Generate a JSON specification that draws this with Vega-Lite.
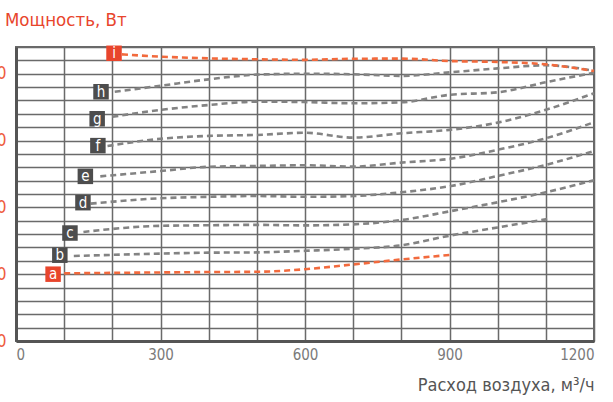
{
  "$schema": "https://vega.github.io/schema/vega-lite/v6.json",
  "width": 578,
  "height": 294,
  "autosize": {"type": "none"},
  "padding": {"left": 16, "top": 47, "right": 19, "bottom": 61},
  "background": "white",
  "title": {
    "text": "Мощность, Вт",
    "anchor": "start",
    "frame": "group",
    "dx": -11,
    "offset": 9,
    "font": "DejaVu Sans Condensed",
    "fontSize": 18.5,
    "fontWeight": "normal",
    "color": "#e8452c"
  },
  "config": {
    "view": {"stroke": "#6a6a6a", "strokeWidth": 2},
    "axis": {"gridColor": "#6a6a6a", "gridWidth": 1.5, "gridOpacity": 1, "ticks": false, "domainColor": "#555555", "domainWidth": 3, "labelOverlap": false}
  },
  "datasets": {
    "curves": [
      {"s": "a", "x": 100, "y": 50.6}, {"s": "a", "x": 200, "y": 51}, {"s": "a", "x": 300, "y": 51.3}, {"s": "a", "x": 400, "y": 51.6}, {"s": "a", "x": 500, "y": 51.8}, {"s": "a", "x": 600, "y": 53.7}, {"s": "a", "x": 700, "y": 57.3}, {"s": "a", "x": 800, "y": 61}, {"s": "a", "x": 900, "y": 64.4},
      {"s": "b", "x": 120, "y": 63.6}, {"s": "b", "x": 300, "y": 65.4}, {"s": "b", "x": 400, "y": 66.1}, {"s": "b", "x": 500, "y": 66.3}, {"s": "b", "x": 600, "y": 67.5}, {"s": "b", "x": 700, "y": 69}, {"s": "b", "x": 800, "y": 71.6}, {"s": "b", "x": 900, "y": 78.8}, {"s": "b", "x": 1000, "y": 85}, {"s": "b", "x": 1110, "y": 91.6},
      {"s": "c", "x": 140, "y": 81.6}, {"s": "c", "x": 300, "y": 86.2}, {"s": "c", "x": 400, "y": 86.6}, {"s": "c", "x": 500, "y": 86.9}, {"s": "c", "x": 600, "y": 86.5}, {"s": "c", "x": 700, "y": 87.3}, {"s": "c", "x": 800, "y": 90.5}, {"s": "c", "x": 900, "y": 97}, {"s": "c", "x": 1000, "y": 103.8}, {"s": "c", "x": 1100, "y": 111.3}, {"s": "c", "x": 1200, "y": 120.3},
      {"s": "d", "x": 155, "y": 102.8}, {"s": "d", "x": 300, "y": 106.8}, {"s": "d", "x": 400, "y": 107.9}, {"s": "d", "x": 500, "y": 108.5}, {"s": "d", "x": 600, "y": 107.9}, {"s": "d", "x": 700, "y": 108.5}, {"s": "d", "x": 800, "y": 111.3}, {"s": "d", "x": 900, "y": 115.8}, {"s": "d", "x": 1000, "y": 123.5}, {"s": "d", "x": 1100, "y": 131.8}, {"s": "d", "x": 1200, "y": 142.2},
      {"s": "e", "x": 175, "y": 123.2}, {"s": "e", "x": 300, "y": 127.2}, {"s": "e", "x": 400, "y": 130.4}, {"s": "e", "x": 500, "y": 131}, {"s": "e", "x": 600, "y": 131.5}, {"s": "e", "x": 700, "y": 130.5}, {"s": "e", "x": 800, "y": 133.5}, {"s": "e", "x": 900, "y": 136.3}, {"s": "e", "x": 1000, "y": 143.1}, {"s": "e", "x": 1100, "y": 151.7}, {"s": "e", "x": 1200, "y": 163.7},
      {"s": "f", "x": 190, "y": 145.9}, {"s": "f", "x": 300, "y": 151.3}, {"s": "f", "x": 400, "y": 153.5}, {"s": "f", "x": 500, "y": 154.2}, {"s": "f", "x": 600, "y": 155.8}, {"s": "f", "x": 700, "y": 152.2}, {"s": "f", "x": 800, "y": 155.4}, {"s": "f", "x": 900, "y": 158}, {"s": "f", "x": 1000, "y": 163.4}, {"s": "f", "x": 1100, "y": 173}, {"s": "f", "x": 1200, "y": 185.4},
      {"s": "g", "x": 200, "y": 167.8}, {"s": "g", "x": 300, "y": 172.9}, {"s": "g", "x": 400, "y": 176.6}, {"s": "g", "x": 500, "y": 179.1}, {"s": "g", "x": 600, "y": 178.8}, {"s": "g", "x": 700, "y": 177.9}, {"s": "g", "x": 800, "y": 178.6}, {"s": "g", "x": 900, "y": 184.2}, {"s": "g", "x": 1000, "y": 186.1}, {"s": "g", "x": 1100, "y": 193.6}, {"s": "g", "x": 1200, "y": 200.8},
      {"s": "h", "x": 205, "y": 186.5}, {"s": "h", "x": 300, "y": 191}, {"s": "h", "x": 400, "y": 195.8}, {"s": "h", "x": 500, "y": 199.3}, {"s": "h", "x": 600, "y": 200}, {"s": "h", "x": 700, "y": 199.6}, {"s": "h", "x": 800, "y": 198.4}, {"s": "h", "x": 900, "y": 201}, {"s": "h", "x": 1000, "y": 204}, {"s": "h", "x": 1100, "y": 206.3}, {"s": "h", "x": 1200, "y": 202.2},
      {"s": "i", "x": 220, "y": 214.5}, {"s": "i", "x": 300, "y": 212.8}, {"s": "i", "x": 400, "y": 211.5}, {"s": "i", "x": 500, "y": 210.8}, {"s": "i", "x": 600, "y": 210.4}, {"s": "i", "x": 700, "y": 211.2}, {"s": "i", "x": 800, "y": 211.3}, {"s": "i", "x": 900, "y": 209.5}, {"s": "i", "x": 1000, "y": 208.8}, {"s": "i", "x": 1100, "y": 207}, {"s": "i", "x": 1200, "y": 202}
    ],
    "labels": [
      {"s": "a", "x": 77, "y": 50},
      {"s": "b", "x": 91, "y": 64.2},
      {"s": "c", "x": 112, "y": 80.8},
      {"s": "d", "x": 139, "y": 103.5},
      {"s": "e", "x": 144, "y": 123.2},
      {"s": "f", "x": 170, "y": 146.2},
      {"s": "g", "x": 168.5, "y": 166.3},
      {"s": "h", "x": 176.5, "y": 186.5},
      {"s": "i", "x": 203.5, "y": 215.3}
    ]
  },
  "layer": [
    {
      "data": {"name": "curves"},
      "mark": {"type": "line", "interpolate": "monotone", "strokeWidth": 2.6, "strokeDash": [6, 4]},
      "encoding": {
        "x": {
          "field": "x", "type": "quantitative",
          "scale": {"domain": [0, 1200], "nice": false},
          "axis": {
            "values": [0, 100, 200, 300, 400, 500, 600, 700, 800, 900, 1000, 1100, 1200],
            "tickCount": 40,
            "labelExpr": "datum.value % 300 === 0 ? datum.label : ''",
            "format": "d",
            "labelFont": "DejaVu Sans Condensed",
            "labelFontSize": 15,
            "labelColor": "#7a7a7a",
            "labelPadding": 6,
            "title": "Расход воздуха, м³/ч",
            "titleAnchor": "end",
            "titleFont": "DejaVu Sans Condensed",
            "titleFontSize": 18,
            "titleFontWeight": "normal",
            "titleColor": "#555555",
            "titlePadding": 14
          }
        },
        "y": {
          "field": "y", "type": "quantitative",
          "scale": {"domain": [0, 220], "nice": false},
          "axis": {
            "values": [0, 10, 20, 30, 40, 50, 60, 70, 80, 90, 100, 110, 120, 130, 140, 150, 160, 170, 180, 190, 200, 210, 220],
            "tickCount": 40,
            "labelExpr": "datum.value % 50 === 0 ? datum.label : ''",
            "labelFont": "DejaVu Sans Condensed",
            "labelFontSize": 17,
            "labelColor": "#ee5a3c",
            "labelPadding": 10,
            "title": null
          }
        },
        "detail": {"field": "s"},
        "stroke": {
          "field": "s", "type": "nominal", "legend": null,
          "scale": {"domain": ["a", "b", "c", "d", "e", "f", "g", "h", "i"], "range": ["#f26a3d", "#838383", "#838383", "#838383", "#838383", "#838383", "#838383", "#838383", "#f26a3d"]}
        }
      }
    },
    {
      "data": {"name": "labels"},
      "mark": {"type": "point", "shape": "square", "filled": true, "size": 240, "opacity": 1},
      "encoding": {
        "x": {"field": "x", "type": "quantitative"},
        "y": {"field": "y", "type": "quantitative"},
        "fill": {
          "field": "s", "type": "nominal", "legend": null,
          "scale": {"domain": ["a", "b", "c", "d", "e", "f", "g", "h", "i"], "range": ["#e8452c", "#4d4d4d", "#4d4d4d", "#4d4d4d", "#4d4d4d", "#4d4d4d", "#4d4d4d", "#4d4d4d", "#e8452c"]}
        }
      }
    },
    {
      "data": {"name": "labels"},
      "mark": {"type": "text", "color": "white", "font": "DejaVu Sans Condensed", "fontSize": 15, "baseline": "middle", "align": "center", "dy": 0},
      "encoding": {
        "x": {"field": "x", "type": "quantitative"},
        "y": {"field": "y", "type": "quantitative"},
        "text": {"field": "s"}
      }
    }
  ]
}
